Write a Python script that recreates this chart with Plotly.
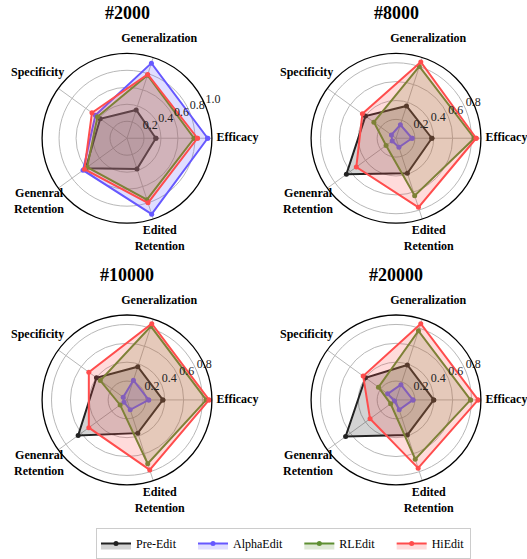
import plotly.graph_objects as go

# Panel titles (number of sequential edits) and radar categories
panel_titles = ["#2000", "#8000", "#10000", "#20000"]
categories = ["Efficacy", "Generalization", "Specificity",
              "Genenral<br>Retention", "Edited<br>Retention"]
radial_ticks = [0.2, 0.4, 0.6, 0.8, 1.0]
radial_max = [1.0, 0.9, 0.9, 0.9]

# Scores per method, one row per panel, ordered as in `categories`
pre_edit = [
    [0.34, 0.35, 0.39, 0.60, 0.38],
    [0.38, 0.36, 0.40, 0.65, 0.39],
    [0.38, 0.37, 0.40, 0.64, 0.37],
    [0.40, 0.39, 0.40, 0.66, 0.39],
]
alpha_edit = [
    [0.95, 0.93, 0.46, 0.64, 0.94],
    [0.17, 0.15, 0.06, 0.05, 0.10],
    [0.23, 0.22, 0.05, 0.04, 0.11],
    [0.18, 0.17, 0.11, 0.02, 0.11],
]
rl_edit = [
    [0.79, 0.78, 0.43, 0.58, 0.76],
    [0.83, 0.80, 0.29, 0.13, 0.64],
    [0.84, 0.82, 0.35, 0.09, 0.71],
    [0.79, 0.77, 0.23, 0.07, 0.66],
]
hi_edit = [
    [0.83, 0.79, 0.51, 0.62, 0.80],
    [0.85, 0.85, 0.44, 0.52, 0.77],
    [0.87, 0.85, 0.50, 0.50, 0.78],
    [0.87, 0.85, 0.43, 0.34, 0.76],
]

SERIF = "Liberation Serif"
W, H = 527, 559

series = [
    ("Pre-Edit", pre_edit, (34, 34, 34)),
    ("AlphaEdit", alpha_edit, (102, 88, 255)),
    ("RLEdit", rl_edit, (94, 143, 50)),
    ("HiEdit", hi_edit, (255, 77, 77)),
]

n = len(categories)
angles = [360.0 / n * i for i in range(n)]
# distance of each category label centre from the centre, relative to the rim
label_reach = [1.30, 1.23, 1.30, 1.28, 1.25]
tick_label_angle = 22.5
# the label layer is a wider, invisible polar sharing each panel's centre
label_layer_scale = 1.45

# pixel centres of the four radar panels and their radius
centres = [(127, 140), (396, 140), (127, 405), (396, 405)]
radius = 86


def polar_name(i):
    return "polar" if i == 0 else f"polar{i + 1}"


fig = go.Figure()
for k in range(4):
    subplot = polar_name(k)
    rmax = radial_max[k]
    for name, rows, (r_, g_, b_) in series:
        vals = rows[k] + rows[k][:1]
        th = angles + angles[:1]
        fig.add_trace(go.Scatterpolar(
            r=vals, theta=th, subplot=subplot,
            mode="lines+markers", fill="toself",
            fillcolor=f"rgba({r_},{g_},{b_},0.2)",
            line=dict(color=f"rgb({r_},{g_},{b_})", width=2),
            marker=dict(size=5, color=f"rgb({r_},{g_},{b_})"),
            name=(name + "\u00a0" * 4) if name != "HiEdit" else name,
            legendgroup=name, showlegend=(k == 0),
        ))
    # radial tick labels, set just above the 22.5 degree line
    ticks = [t for t in radial_ticks if t <= rmax + 1e-9]
    fig.add_trace(go.Scatterpolar(
        r=ticks, theta=[tick_label_angle] * len(ticks), subplot=subplot,
        mode="text", text=[f"{t:.1f}" for t in ticks],
        textposition="top right", cliponaxis=False,
        textfont=dict(family=SERIF, size=12, color="#222222"),
        showlegend=False, hoverinfo="skip",
    ))
    # category labels around the rim, on the wider label layer
    fig.add_trace(go.Scatterpolar(
        r=[rmax * f for f in label_reach], theta=angles,
        subplot=polar_name(k + 4),
        mode="text",
        text=["<br>".join(f"<b>{p}</b>" for p in c.split("<br>"))
              for c in categories],
        textposition="middle center", cliponaxis=False,
        textfont=dict(family=SERIF, size=12, color="black"),
        showlegend=False, hoverinfo="skip",
    ))

layout = {}
for k, (cx, cy) in enumerate(centres):
    ticks = [t for t in radial_ticks if t <= radial_max[k] + 1e-9]
    layout[polar_name(k)] = dict(
        domain=dict(
            x=[(cx - radius) / W, (cx + radius) / W],
            y=[(H - cy - radius) / H, (H - cy + radius) / H],
        ),
        bgcolor="white",
        angularaxis=dict(
            direction="counterclockwise", rotation=0,
            tickmode="array", tickvals=angles, showticklabels=False,
            showline=True, linecolor="black", linewidth=1.3,
            gridcolor="#b8b8b8", gridwidth=0.8, ticks="",
        ),
        radialaxis=dict(
            range=[0, radial_max[k]], tickmode="array",
            tickvals=ticks, showticklabels=False,
            angle=tick_label_angle, showline=False, ticks="",
            gridcolor="#b8b8b8", gridwidth=0.8,
        ),
    )
    big = radius * label_layer_scale
    layout[polar_name(k + 4)] = dict(
        domain=dict(
            x=[(cx - big) / W, (cx + big) / W],
            y=[(H - cy - big) / H, (H - cy + big) / H],
        ),
        bgcolor="rgba(0,0,0,0)",
        angularaxis=dict(direction="counterclockwise", rotation=0,
                         visible=False),
        radialaxis=dict(range=[0, radial_max[k] * label_layer_scale],
                        visible=False),
    )

annotations = []
for k, (cx, cy) in enumerate(centres):
    annotations.append(dict(
        text=f"<b>{panel_titles[k]}</b>", x=cx / W, y=(H - (cy - 127)) / H,
        xref="paper", yref="paper", xanchor="center", yanchor="middle",
        showarrow=False, font=dict(family=SERIF, size=18, color="black"),
    ))

fig.update_layout(
    **layout,
    annotations=annotations,
    width=W, height=H,
    margin=dict(l=0, r=0, t=0, b=0),
    paper_bgcolor="white",
    font=dict(family=SERIF, size=12, color="black"),
    legend=dict(
        orientation="h", x=96 / W, xanchor="left", y=(H - 535) / H,
        yanchor="top", bordercolor="#cccccc", borderwidth=1,
        bgcolor="white", font=dict(family=SERIF, size=12, color="black"),
    ),
)

fig.write_html("out.html")
